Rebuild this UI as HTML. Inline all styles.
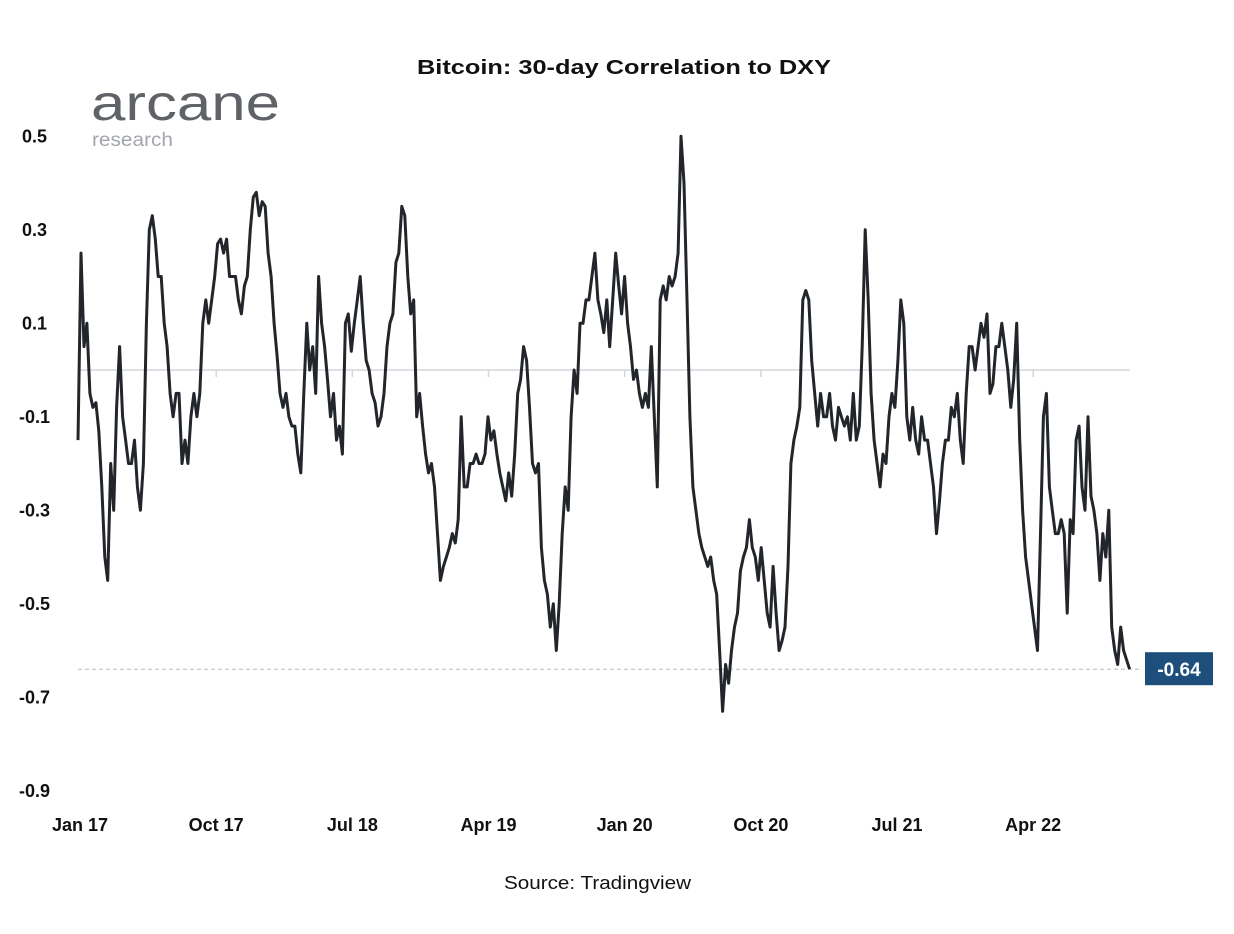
<!DOCTYPE html>
<html><head><meta charset="utf-8"><style>
body{margin:0;background:#fff;font-family:"Liberation Sans",sans-serif}
svg text{font-family:"Liberation Sans",sans-serif}
</style></head><body>
<svg width="1234" height="929" viewBox="0 0 1234 929">
<text x="417" y="74" textLength="414" lengthAdjust="spacingAndGlyphs" font-size="20" font-weight="bold" fill="#111">Bitcoin: 30-day Correlation to DXY</text>
<text x="91" y="120" textLength="189" lengthAdjust="spacingAndGlyphs" font-size="50" fill="#5f6266">arcane</text>
<text x="92" y="146" textLength="81" lengthAdjust="spacingAndGlyphs" font-size="19" fill="#a3a7ab">research</text>
<g id="yaxis"></g>
<g id="xaxis"></g>
<line x1="78" x2="1130" y1="370" y2="370" stroke="#d3d6da" stroke-width="1.5"/>
<g id="ticks"></g>
<line id="lastline" x1="78" x2="1140" stroke="#b8bcc2" stroke-width="1" stroke-dasharray="4,3"/>
<path id="series" fill="none" stroke="#22262b" stroke-width="3" stroke-linejoin="round"/>
<rect id="lastbox" x="1145" width="68" height="33" fill="#1e4f7c"/>
<text id="lasttext" x="1179" text-anchor="middle" font-size="19" font-weight="bold" fill="#fff"></text>
<text x="504" y="889" textLength="187" lengthAdjust="spacingAndGlyphs" font-size="18" fill="#111">Source: Tradingview</text>
</svg>
<script>
const yTicks=[0.5,0.3,0.1,-0.1,-0.3,-0.5,-0.7,-0.9];
const xLabels=["Jan 17","Oct 17","Jul 18","Apr 19","Jan 20","Oct 20","Jul 21","Apr 22"];
const xLabelMonths=[0,9,18,27,36,45,54,63];
const totalMonths=69.5;
const values=[-0.15,0.25,0.05,0.1,-0.05,-0.08,-0.07,-0.13,-0.25,-0.4,-0.45,-0.2,-0.3,-0.08,0.05,-0.1,-0.15,-0.2,-0.2,-0.15,-0.25,-0.3,-0.2,0.1,0.3,0.33,0.28,0.2,0.2,0.1,0.05,-0.05,-0.1,-0.05,-0.05,-0.2,-0.15,-0.2,-0.1,-0.05,-0.1,-0.05,0.1,0.15,0.1,0.15,0.2,0.27,0.28,0.25,0.28,0.2,0.2,0.2,0.15,0.12,0.18,0.2,0.3,0.37,0.38,0.33,0.36,0.35,0.25,0.2,0.1,0.03,-0.05,-0.08,-0.05,-0.1,-0.12,-0.12,-0.18,-0.22,-0.05,0.1,0.0,0.05,-0.05,0.2,0.1,0.05,-0.02,-0.1,-0.05,-0.15,-0.12,-0.18,0.1,0.12,0.04,0.1,0.15,0.2,0.1,0.02,0.0,-0.05,-0.07,-0.12,-0.1,-0.05,0.05,0.1,0.12,0.23,0.25,0.35,0.33,0.2,0.12,0.15,-0.1,-0.05,-0.12,-0.18,-0.22,-0.2,-0.25,-0.35,-0.45,-0.42,-0.4,-0.38,-0.35,-0.37,-0.32,-0.1,-0.25,-0.25,-0.2,-0.2,-0.18,-0.2,-0.2,-0.18,-0.1,-0.15,-0.13,-0.18,-0.22,-0.25,-0.28,-0.22,-0.27,-0.18,-0.05,-0.02,0.05,0.02,-0.08,-0.2,-0.22,-0.2,-0.38,-0.45,-0.48,-0.55,-0.5,-0.6,-0.5,-0.35,-0.25,-0.3,-0.1,0.0,-0.05,0.1,0.1,0.15,0.15,0.2,0.25,0.15,0.12,0.08,0.15,0.05,0.15,0.25,0.18,0.12,0.2,0.1,0.05,-0.02,0.0,-0.05,-0.08,-0.05,-0.08,0.05,-0.1,-0.25,0.15,0.18,0.15,0.2,0.18,0.2,0.25,0.5,0.4,0.15,-0.1,-0.25,-0.3,-0.35,-0.38,-0.4,-0.42,-0.4,-0.45,-0.48,-0.6,-0.73,-0.63,-0.67,-0.6,-0.55,-0.52,-0.43,-0.4,-0.38,-0.32,-0.38,-0.4,-0.45,-0.38,-0.45,-0.52,-0.55,-0.42,-0.52,-0.6,-0.58,-0.55,-0.42,-0.2,-0.15,-0.12,-0.08,0.15,0.17,0.15,0.02,-0.05,-0.12,-0.05,-0.1,-0.1,-0.05,-0.12,-0.15,-0.08,-0.1,-0.12,-0.1,-0.15,-0.05,-0.15,-0.12,0.05,0.3,0.15,-0.05,-0.15,-0.2,-0.25,-0.18,-0.2,-0.1,-0.05,-0.08,0.02,0.15,0.1,-0.1,-0.15,-0.08,-0.15,-0.18,-0.1,-0.15,-0.15,-0.2,-0.25,-0.35,-0.28,-0.2,-0.15,-0.15,-0.08,-0.1,-0.05,-0.15,-0.2,-0.05,0.05,0.05,0.0,0.05,0.1,0.07,0.12,-0.05,-0.03,0.05,0.05,0.1,0.05,0.0,-0.08,-0.02,0.1,-0.15,-0.3,-0.4,-0.45,-0.5,-0.55,-0.6,-0.35,-0.1,-0.05,-0.25,-0.3,-0.35,-0.35,-0.32,-0.35,-0.52,-0.32,-0.35,-0.15,-0.12,-0.25,-0.3,-0.1,-0.27,-0.3,-0.35,-0.45,-0.35,-0.4,-0.3,-0.55,-0.6,-0.63,-0.55,-0.6,-0.62,-0.64];
const lastValue=-0.64;

const X0=80,PX_PER_MONTH=15.13,Y0=370,PX_PER_UNIT=467.5;
const xs=m=>X0+m*PX_PER_MONTH;
const ys=v=>Y0-v*PX_PER_UNIT;
const NS="http://www.w3.org/2000/svg";
const ya=document.getElementById('yaxis');
yTicks.forEach(t=>{const e=document.createElementNS(NS,'text');


e.setAttribute('x',t<0?19:22);e.setAttribute('y',ys(t)+6);e.setAttribute('font-size','18');e.setAttribute('font-weight','bold');e.setAttribute('fill','#111');
e.textContent=(t<0?'-':'')+Math.abs(t).toFixed(1);ya.appendChild(e);});
const xa=document.getElementById('xaxis'),tk=document.getElementById('ticks');
xLabels.forEach((l,i)=>{const x=xs(xLabelMonths[i]);const e=document.createElementNS(NS,'text');


e.setAttribute('x',x);e.setAttribute('y',831);e.setAttribute('text-anchor','middle');e.setAttribute('font-size','18');e.setAttribute('font-weight','bold');e.setAttribute('fill','#111');
e.textContent=l;xa.appendChild(e);
if(i>0){const t=document.createElementNS(NS,'line');


t.setAttribute('x1',x);t.setAttribute('x2',x);t.setAttribute('y1',370);t.setAttribute('y2',377);t.setAttribute('stroke','#d3d6da');t.setAttribute('stroke-width','1.5');tk.appendChild(t);}});
const n=values.length;let d='';
values.forEach((v,i)=>{const m=(totalMonths*i/(n-1))-0.13;d+=(i?'L':'M')+xs(m).toFixed(1)+' '+ys(v).toFixed(1);});
document.getElementById('series').setAttribute('d',d);
const ly=ys(lastValue);
const ll=document.getElementById('lastline');ll.setAttribute('y1',ly);ll.setAttribute('y2',ly);
document.getElementById('lastbox').setAttribute('y',ly-17);
const lt=document.getElementById('lasttext');lt.setAttribute('y',ly+7);lt.textContent=lastValue.toFixed(2);
</script>
</body></html>
